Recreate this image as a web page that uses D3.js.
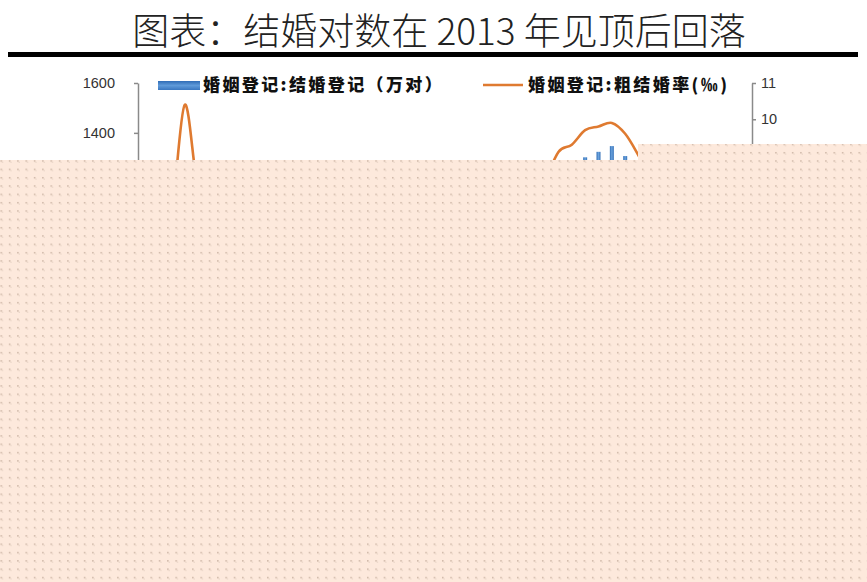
<!DOCTYPE html>
<html>
<head>
<meta charset="utf-8">
<script src="https://cdn.jsdelivr.net/npm/d3@7"></script>
<style>
  body { margin: 0; background: #fff; }
  svg { display: block; }
</style>
</head>
<body>
<script>
var width = 867;
var height = 582;

var years = ['1978', '1979', '1980', '1981', '1982', '1983', '1984', '1985', '1986', '1987',
    '1988', '1989', '1990', '1991', '1992', '1993', '1994', '1995', '1996', '1997',
    '1998', '1999', '2000', '2001', '2002', '2003', '2004', '2005', '2006', '2007',
    '2008', '2009', '2010', '2011', '2012', '2013', '2014', '2015', '2016', '2017',
    '2018', '2019', '2020', '2021', '2022', '2023'];

// 婚姻登记:结婚登记（万对）
var marriages = [598, 637, 720, 1043, 824, 836, 843, 831, 884, 926,
    899, 937, 951, 953, 957, 912, 929, 934, 938, 914,
    891, 885, 848, 805, 786, 811, 867, 823, 945, 991,
    1098, 1212, 1241, 1302, 1324, 1347, 1307, 1225, 1142, 1063,
    1014, 927, 814, 764, 684, 768];

// 婚姻登记:粗结婚率(‰)
var rates = [6.2, 6.5, 7.3, 10.4, 8.1, 8.1, 8.1, 7.9, 8.3, 8.5,
    8.1, 8.3, 8.3, 8.2, 8.2, 7.7, 7.8, 7.7, 7.7, 7.4,
    7.1, 7.0, 6.7, 6.3, 6.1, 6.3, 6.7, 6.3, 7.2, 7.5,
    8.3, 9.1, 9.3, 9.7, 9.8, 9.9, 9.6, 9.0, 8.3, 7.7,
    7.3, 6.6, 5.8, 5.4, 4.8, 5.4];

var leftTicks = [0, 200, 400, 600, 800, 1000, 1200, 1400, 1600];
var rightTicks = [0, 1, 2, 3, 4, 5, 6, 7, 8, 9, 10, 11];

var plot = { left: 138, right: 752, top: 83, bottom: 482 };

var svg = d3.select('body')
    .append('svg')
    .attr('width', width)
    .attr('height', height);

var defs = svg.append('defs');

var grad = defs.append('linearGradient')
    .attr('id', 'barGrad')
    .attr('x1', 0).attr('y1', 0)
    .attr('x2', 1).attr('y2', 0);
grad.append('stop').attr('offset', '0%').attr('stop-color', '#3470b8');
grad.append('stop').attr('offset', '50%').attr('stop-color', '#6aa2dc');
grad.append('stop').attr('offset', '100%').attr('stop-color', '#3470b8');

var sw = defs.append('linearGradient')
    .attr('id', 'swatchGrad')
    .attr('x1', 0).attr('y1', 0)
    .attr('x2', 0).attr('y2', 1);
sw.append('stop').attr('offset', '0%').attr('stop-color', '#2f6cb6');
sw.append('stop').attr('offset', '50%').attr('stop-color', '#5f9ad9');
sw.append('stop').attr('offset', '100%').attr('stop-color', '#3a77c0');

// dotted peach cover
var pat = defs.append('pattern')
    .attr('id', 'dots')
    .attr('patternUnits', 'userSpaceOnUse')
    .attr('x', 0.5).attr('y', 2)
    .attr('width', 8.33).attr('height', 8.33);
pat.append('rect').attr('width', 8.33).attr('height', 8.33).attr('fill', '#fde9dc');
pat.append('rect').attr('x', 0).attr('y', 0).attr('width', 1.5).attr('height', 1.5).attr('fill', '#cdb6a6');
pat.append('rect').attr('x', 1.5).attr('y', 1.5).attr('width', 1.2).attr('height', 1.2).attr('fill', '#e6d2c4');

// title
svg.append('text')
    .attr('x', 439)
    .attr('y', 45)
    .attr('text-anchor', 'middle')
    .attr('font-family', '"Noto Sans CJK SC", sans-serif')
    .attr('font-weight', 300)
    .attr('font-size', 37)
    .attr('fill', '#222')
    .text('图表：结婚对数在 2013 年见顶后回落');

svg.append('rect')
    .attr('x', 8).attr('y', 52)
    .attr('width', 850).attr('height', 5)
    .attr('fill', '#000');

var x = d3.scaleBand()
    .domain(years)
    .range([plot.left, plot.right])
    .paddingInner(0.7)
    .paddingOuter(0.35);

var yL = d3.scaleLinear().domain([0, 1600]).range([plot.bottom, plot.top]);
var yR = d3.scaleLinear().domain([0, 11]).range([plot.bottom, plot.top]);

svg.append('g')
    .selectAll('rect')
    .data(marriages)
    .enter()
    .append('rect')
    .attr('x', function(d, i) { return x(years[i]); })
    .attr('y', function(d) { return yL(d); })
    .attr('width', x.bandwidth())
    .attr('height', function(d) { return yL(0) - yL(d); })
    .attr('fill', 'url(#barGrad)');

var line = d3.line()
    .x(function(d, i) { return x(years[i]) + x.bandwidth() / 2; })
    .y(function(d) { return yR(d); })
    .curve(d3.curveCardinal.tension(0));

svg.append('path')
    .datum(rates)
    .attr('d', line)
    .attr('fill', 'none')
    .attr('stroke', '#df7a30')
    .attr('stroke-width', 2.6);

var axisFont = 'Liberation Sans, Arial, sans-serif';

var gl = svg.append('g')
    .attr('transform', 'translate(' + plot.left + ',0)')
    .call(d3.axisLeft(yL).tickValues(leftTicks).tickFormat(d3.format('d'))
        .tickSize(4).tickSizeOuter(0).tickPadding(19));
var gr = svg.append('g')
    .attr('transform', 'translate(' + plot.right + ',0)')
    .call(d3.axisRight(yR).tickValues(rightTicks).tickFormat(d3.format('d'))
        .tickSize(4).tickSizeOuter(0).tickPadding(5));
[gl, gr].forEach(function(g) {
    g.select('.domain').attr('stroke', '#8a8a8a').attr('stroke-width', 1.5);
    g.selectAll('.tick line').attr('stroke', '#8a8a8a').attr('stroke-width', 1.5);
    g.selectAll('.tick text')
        .attr('font-family', axisFont)
        .attr('font-size', 14.5)
        .attr('fill', '#333');
});

var gx = svg.append('g')
    .attr('transform', 'translate(0,' + plot.bottom + ')')
    .call(d3.axisBottom(x).tickSize(0).tickPadding(6));
gx.select('.domain').attr('stroke', '#8a8a8a');
gx.selectAll('.tick text')
    .attr('font-family', axisFont)
    .attr('font-size', 11)
    .attr('fill', '#333')
    .attr('transform', 'rotate(-90)')
    .attr('text-anchor', 'end')
    .attr('dx', '-0.6em')
    .attr('dy', '-0.4em');

// legend
var legFont = '"Noto Sans CJK SC", sans-serif';
svg.append('rect')
    .attr('x', 158).attr('y', 81)
    .attr('width', 42).attr('height', 9)
    .attr('fill', 'url(#swatchGrad)');
svg.append('text')
    .attr('x', 203).attr('y', 91)
    .attr('font-family', legFont)
    .attr('font-weight', 900)
    .attr('font-size', 17)
    .attr('letter-spacing', 2.4)
    .attr('fill', '#111')
    .text('婚姻登记:结婚登记（万对）');

svg.append('line')
    .attr('x1', 483).attr('x2', 523)
    .attr('y1', 85).attr('y2', 85)
    .attr('stroke', '#df7a30')
    .attr('stroke-width', 2.6);
svg.append('text')
    .attr('x', 528).attr('y', 91)
    .attr('font-family', legFont)
    .attr('font-weight', 900)
    .attr('font-size', 17)
    .attr('letter-spacing', 2.4)
    .attr('fill', '#111')
    .text('婚姻登记:粗结婚率(‰)');

// cover panel over the lower part of the chart
svg.append('path')
    .attr('d', 'M0,160H638V144H867V582H0Z')
    .attr('fill', 'url(#dots)');
</script>
</body>
</html>
